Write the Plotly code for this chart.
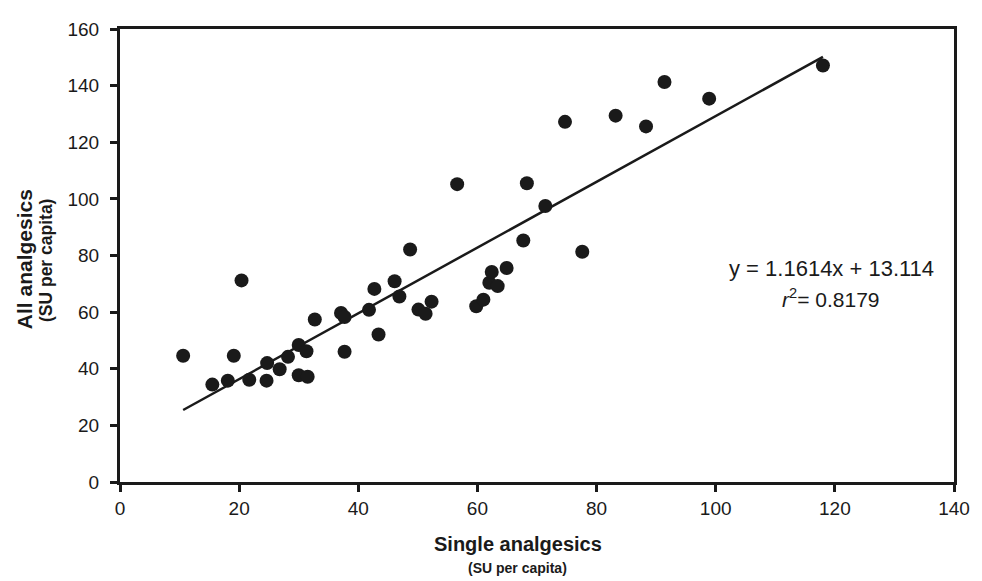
import plotly.graph_objects as go

single = [10.6, 15.5, 18.1, 19.1, 20.4, 21.7, 24.6, 24.7, 26.8, 28.2, 30.0, 31.5, 30.0, 31.3,
          32.7, 37.1, 37.7, 37.7, 41.8, 42.7, 43.4, 46.1, 46.9, 48.7, 50.1, 51.3, 52.3, 56.6,
          59.8, 61.0, 62.0, 62.4, 63.4, 64.9, 67.7, 68.3, 71.4, 74.7, 77.6, 83.2, 88.3, 91.4,
          98.9, 118.0]
all_an = [44.6, 34.4, 35.8, 44.6, 71.2, 36.1, 35.8, 42.0, 39.8, 44.2, 37.7, 37.2, 48.4, 46.2,
          57.4, 59.7, 58.3, 46.0, 60.8, 68.2, 52.1, 70.9, 65.5, 82.1, 60.9, 59.4, 63.7, 105.2,
          62.1, 64.4, 70.4, 74.2, 69.2, 75.6, 85.3, 105.5, 97.5, 127.2, 81.3, 129.4, 125.6, 141.3,
          135.4, 147.1]
slope = 1.1614
intercept = 13.114
fit_x = [min(single), max(single)]
fit_y = [slope * v + intercept for v in fit_x]

x_ticks = [0, 20, 40, 60, 80, 100, 120, 140]
y_ticks = [0, 20, 40, 60, 80, 100, 120, 140, 160]

FONT = "Liberation Sans, Arial, sans-serif"
INK = "#1a1a1a"

fig = go.Figure()
fig.add_trace(go.Scatter(x=fit_x, y=fit_y, mode="lines",
                         line=dict(color=INK, width=2.5), showlegend=False, hoverinfo="skip"))
fig.add_trace(go.Scatter(x=single, y=all_an, mode="markers",
                         marker=dict(color=INK, size=14, line=dict(width=0)), showlegend=False))

axis_common = dict(showgrid=False, zeroline=False, showline=True, linecolor=INK, linewidth=3,
                   mirror=True, ticks="outside", ticklen=7, tickwidth=3, tickcolor=INK,
                   tickfont=dict(family=FONT, size=19, color=INK))
fig.update_xaxes(range=[0, 140], tickvals=x_ticks, **axis_common)
fig.update_yaxes(range=[0, 160], tickvals=y_ticks, ticklabelstandoff=7, **axis_common)

fig.add_annotation(xref="paper", yref="paper", x=0.477, y=-0.136, yanchor="middle",
                   text="<b>Single analgesics</b>", showarrow=False,
                   font=dict(family=FONT, size=20, color=INK))
fig.add_annotation(xref="paper", yref="paper", x=0.477, y=-0.19, yanchor="middle",
                   text="<b>(SU per capita)</b>", showarrow=False,
                   font=dict(family=FONT, size=14, color=INK))
fig.add_annotation(xref="paper", yref="paper", x=-0.115, y=0.492, xanchor="center",
                   yanchor="middle", text="<b>All analgesics</b>", showarrow=False, textangle=-90,
                   font=dict(family=FONT, size=21, color=INK))
fig.add_annotation(xref="paper", yref="paper", x=-0.0887, y=0.49, xanchor="center",
                   yanchor="middle", text="<b>(SU per capita)</b>", showarrow=False, textangle=-90,
                   font=dict(family=FONT, size=17.5, color=INK))
fig.add_annotation(x=119.4, y=75.3, text="y = 1.1614x + 13.114", showarrow=False,
                   font=dict(family=FONT, size=22, color=INK))
fig.add_annotation(x=119.4, y=64.9, text="<i>r</i><sup>2</sup>= 0.8179", showarrow=False,
                   font=dict(family=FONT, size=21, color=INK))

fig.update_layout(width=974, height=573, plot_bgcolor="white", paper_bgcolor="white",
                  margin=dict(l=112, r=28, t=11, b=99), showlegend=False)
fig.write_html("out.html")
